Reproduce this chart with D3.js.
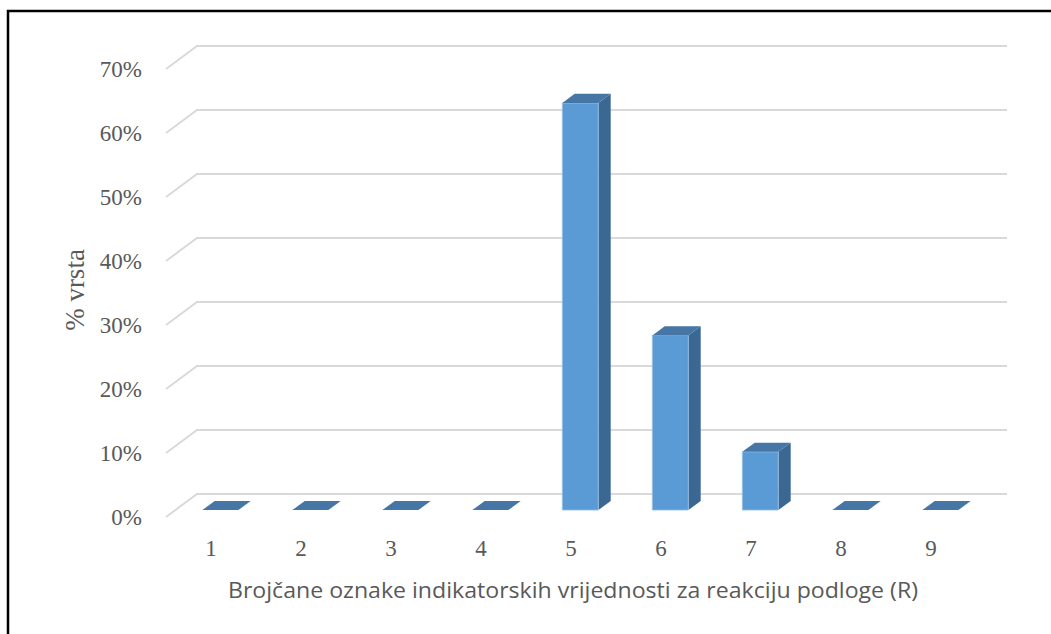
<!DOCTYPE html>
<html>
<head>
<meta charset="utf-8">
<script src="https://cdn.jsdelivr.net/npm/d3@7"></script>
<style>
  body { margin: 0; background: #fff; }
  svg { display: block; }
</style>
</head>
<body>
<svg id="chart"></svg>
<script>
// categories on the x axis (R values)
var categories = ["1", "2", "3", "4", "5", "6", "7", "8", "9"];
// share of species per category
var shares = [0, 0, 0, 0, 0.636, 0.273, 0.091, 0, 0];
// y tick values
var yTicks = [0, 0.1, 0.2, 0.3, 0.4, 0.5, 0.6, 0.7];

var xTitle = "Brojčane oznake indikatorskih vrijednosti za reakciju podloge (R)";
var yTitle = "% vrsta";

var screen = { width: 1051, height: 634 };

// front plane of the 3d box
var plot = { left: 166, right: 976, top: 69, bottom: 517 };
// depth vector of the box (front -> back)
var depth = { dx: 31, dy: -23 };
// bar sits between these depth fractions
var barZ = [0.3, 0.7];

var svg = d3.select("#chart")
    .attr("width", screen.width)
    .attr("height", screen.height);

var xScale = d3.scaleBand()
    .domain(categories)
    .range([plot.left, plot.right])
    .paddingInner(0.6)
    .paddingOuter(0.3);

var xLabelScale = d3.scaleBand()
    .domain(categories)
    .range([plot.left, plot.right]);

var yScale = d3.scaleLinear()
    .domain([0, 0.7])
    .range([plot.bottom, plot.top]);

var pt = function (x, y, z) {
    return [x + depth.dx * z, y + depth.dy * z];
}
var poly = function (pts) {
    return pts.map(function (p) { return p[0] + "," + p[1]; }).join(" ");
}

// frame (only top and left edge visible)
svg.append("rect")
    .attr("x", 8).attr("y", 11)
    .attr("width", 1100).attr("height", 700)
    .attr("fill", "none")
    .attr("stroke", "#000")
    .attr("stroke-width", 2.5);

// gridlines: back wall + diagonal on the side wall
var grid = svg.append("g").attr("class", "grid")
    .attr("stroke", "#d9d9d9")
    .attr("stroke-width", 2)
    .attr("fill", "none");

grid.selectAll("path")
    .data(yTicks)
    .enter()
    .append("path")
    .attr("d", function (t) {
        var a = pt(plot.left, yScale(t), 0);
        var b = pt(plot.left, yScale(t), 1);
        var c = pt(plot.right, yScale(t), 1);
        return "M" + a + "L" + b + "L" + c;
    });

// y tick labels
svg.append("g")
    .selectAll("text")
    .data(yTicks)
    .enter()
    .append("text")
    .attr("x", 142)
    .attr("y", function (t) { return yScale(t); })
    .attr("dy", "0.35em")
    .attr("text-anchor", "end")
    .attr("font-family", "'Liberation Serif', 'Times New Roman', serif")
    .attr("font-size", 23)
    .attr("fill", "#595959")
    .text(function (t) { return d3.format(".0%")(t); });

// x tick labels
svg.append("g")
    .selectAll("text")
    .data(categories)
    .enter()
    .append("text")
    .attr("x", function (c) { return xLabelScale(c) + xLabelScale.bandwidth() / 2; })
    .attr("y", 556)
    .attr("text-anchor", "middle")
    .attr("font-family", "'Liberation Serif', 'Times New Roman', serif")
    .attr("font-size", 23)
    .attr("fill", "#595959")
    .text(function (c) { return c; });

// bars
var bars = svg.append("g").attr("class", "bars")
    .selectAll("g")
    .data(categories.map(function (c, i) { return { cat: c, v: shares[i] }; }))
    .enter()
    .append("g");

bars.each(function (d) {
    var g = d3.select(this);
    var x0 = xScale(d.cat), x1 = x0 + xScale.bandwidth();
    var yb = yScale(0), yt = yScale(d.v);
    var z0 = barZ[0], z1 = barZ[1];

    if (d.v > 0) {
        // side face
        g.append("polygon")
            .attr("points", poly([pt(x1, yb, z0), pt(x1, yb, z1), pt(x1, yt, z1), pt(x1, yt, z0)]))
            .attr("fill", "#3b6893");
        // front face
        g.append("polygon")
            .attr("points", poly([pt(x0, yb, z0), pt(x1, yb, z0), pt(x1, yt, z0), pt(x0, yt, z0)]))
            .attr("fill", "#5b9bd5")
            .attr("stroke", "#9dc3e6")
            .attr("stroke-width", 0.8);
    }
    // top face
    g.append("polygon")
        .attr("points", poly([pt(x0, yt, z0), pt(x1, yt, z0), pt(x1, yt, z1), pt(x0, yt, z1)]))
        .attr("fill", "#4676a5");
});

// axis titles
svg.append("text")
    .attr("x", 573)
    .attr("y", 598)
    .attr("text-anchor", "middle")
    .attr("font-family", "'Open Sans', 'Noto Sans', sans-serif")
    .attr("font-size", 21)
    .attr("textLength", 690)
    .attr("lengthAdjust", "spacingAndGlyphs")
    .attr("fill", "#595959")
    .text(xTitle);

svg.append("text")
    .attr("transform", "translate(84,290) rotate(-90)")
    .attr("text-anchor", "middle")
    .attr("font-family", "'Liberation Serif', 'Times New Roman', serif")
    .attr("font-size", 27)
    .attr("fill", "#595959")
    .text(yTitle);
</script>
</body>
</html>
